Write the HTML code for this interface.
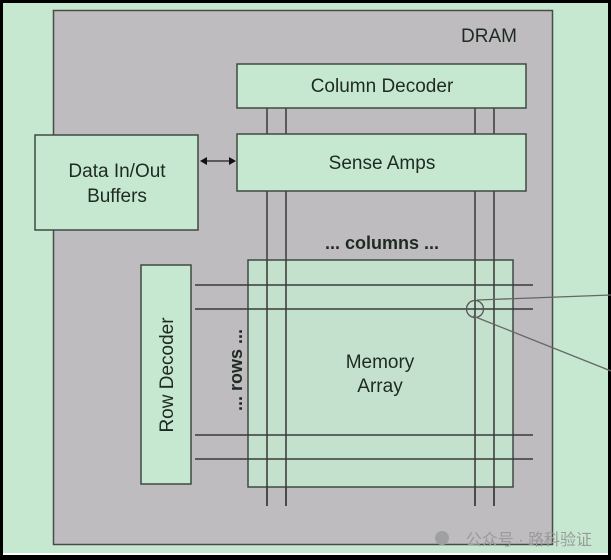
<!DOCTYPE html>
<html><head><meta charset="utf-8"><style>
body{margin:0;width:611px;height:560px;overflow:hidden;background:#000;}
svg{display:block}
text{font-family:"Liberation Sans","Noto Sans CJK SC",sans-serif;fill:#1e2a22}
</style></head><body>
<svg width="611" height="560" viewBox="0 0 611 560">
<rect x="3" y="3" width="605" height="550" fill="#c6e8d0"/>
<rect x="3" y="553" width="605" height="2" fill="#fff"/>
<rect x="53.5" y="10.5" width="499" height="534" fill="#bebcbf" stroke="#4a4a4a" stroke-width="1.5"/>
<text x="517" y="42" font-size="19" text-anchor="end">DRAM</text>
<g stroke="#3a3a3a" stroke-width="1.5">
<line x1="267" y1="108" x2="267" y2="506"/><line x1="286" y1="108" x2="286" y2="506"/>
<line x1="475" y1="108" x2="475" y2="506"/><line x1="494" y1="108" x2="494" y2="506"/>
</g>
<g fill="#c6e8d0" stroke="#3e4a42" stroke-width="1.5">
<rect x="237" y="64" width="289" height="44"/>
<rect x="237" y="134" width="289" height="57"/>
<rect x="35" y="135" width="163" height="95"/>
<rect x="141" y="265" width="50" height="219"/>
<rect x="248" y="260" width="265" height="227" fill-opacity="0.85"/>
</g>
<g stroke="#3a3a3a" stroke-width="1.5">
<line x1="267" y1="260" x2="267" y2="506"/><line x1="286" y1="260" x2="286" y2="506"/>
<line x1="475" y1="260" x2="475" y2="506"/><line x1="494" y1="260" x2="494" y2="506"/>
<line x1="195" y1="285" x2="533" y2="285"/><line x1="195" y1="309" x2="533" y2="309"/>
<line x1="195" y1="435" x2="533" y2="435"/><line x1="195" y1="459" x2="533" y2="459"/>
<line x1="203" y1="161" x2="232" y2="161"/>
</g>
<path d="M200 161 l7 -4 v8z M236 161 l-7 -4 v8z" fill="#111"/>
<circle cx="475" cy="309" r="8.5" fill="none" stroke="#555" stroke-width="1.3"/>
<line x1="477" y1="300" x2="611" y2="295" stroke="#666" stroke-width="1.3"/>
<line x1="473" y1="316" x2="611" y2="371" stroke="#666" stroke-width="1.3"/>
<text x="382" y="92" font-size="19" text-anchor="middle">Column Decoder</text>
<text x="382" y="169" font-size="19" text-anchor="middle">Sense Amps</text>
<text x="117" y="177" font-size="19" text-anchor="middle">Data In/Out</text>
<text x="117" y="202" font-size="19" text-anchor="middle">Buffers</text>
<text x="382" y="249" font-size="18" font-weight="bold" text-anchor="middle">... columns ...</text>
<text x="380" y="368" font-size="19" text-anchor="middle">Memory</text>
<text x="380" y="392" font-size="19" text-anchor="middle">Array</text>
<text transform="translate(173,375) rotate(-90)" font-size="19" text-anchor="middle">Row Decoder</text>
<text transform="translate(242,370) rotate(-90)" font-size="18" font-weight="bold" text-anchor="middle">... rows ...</text>
<text x="592" y="545" font-size="16" text-anchor="end" style="fill:#9a9a9a">公众号 · 路科验证</text>
<circle cx="442" cy="538" r="7" fill="#a0a0a0"/>
</svg>
</body></html>
